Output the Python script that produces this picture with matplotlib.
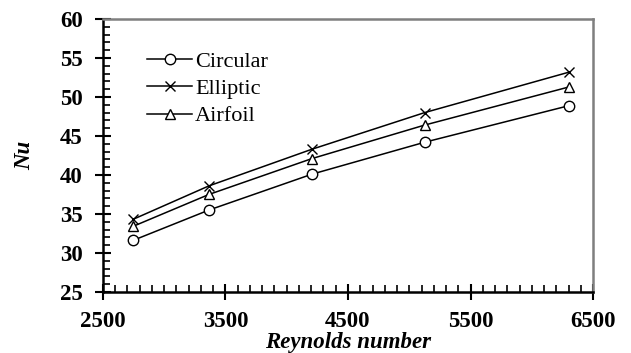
import matplotlib.pyplot as plt
from matplotlib.ticker import MultipleLocator

# Dados
reynolds = [2745, 3365, 4205, 5125, 6305]
nu_circular = [31.6, 35.5, 40.1, 44.2, 48.9]
nu_elliptic = [34.3, 38.6, 43.3, 48.0, 53.2]
nu_airfoil = [33.4, 37.5, 42.1, 46.4, 51.3]
series_labels = ['Circular', 'Elliptic', 'Airfoil']
x_ticks = [2500, 3500, 4500, 5500, 6500]

plt.rcParams['font.family'] = ['Liberation Serif', 'DejaVu Serif']

fig = plt.figure(figsize=(6.31, 3.53), dpi=100)
ax = fig.add_axes([0.163, 0.173, 0.777, 0.773])

ax.plot(reynolds, nu_circular, color='black', lw=1.1, marker='o', ms=7.5,
        mfc='white', mec='black', mew=1.0, label=series_labels[0])
ax.plot(reynolds, nu_elliptic, color='black', lw=1.1, marker='x', ms=7.5,
        mew=1.0, label=series_labels[1])
ax.plot(reynolds, nu_airfoil, color='black', lw=1.1, marker='^', ms=7.5,
        mfc='white', mec='black', mew=1.0, label=series_labels[2])

ax.set_xlim(2500, 6500)
ax.set_ylim(25, 60)
ax.set_xticks(x_ticks)
ax.xaxis.set_minor_locator(MultipleLocator(100))
ax.yaxis.set_major_locator(MultipleLocator(5))
ax.yaxis.set_minor_locator(MultipleLocator(1))

ax.tick_params(which='major', direction='inout', length=11, width=1.5,
               labelsize=16.5)
ax.tick_params(axis='y', which='major', pad=9)
ax.tick_params(axis='x', which='major', pad=8)
ax.tick_params(which='minor', direction='in', length=5, width=1.2)
for lab in ax.get_xticklabels() + ax.get_yticklabels():
    lab.set_fontweight('bold')

for s in ['left', 'bottom']:
    ax.spines[s].set_color('black')
    ax.spines[s].set_linewidth(1.8)
for s in ['top', 'right']:
    ax.spines[s].set_color('#7f7f7f')
    ax.spines[s].set_linewidth(1.8)

ax.set_xlabel('Reynolds number', fontsize=16.5, fontweight='bold', style='italic', labelpad=0)
ax.set_ylabel('Nu', fontsize=16.5, fontweight='bold', style='italic', labelpad=18)

ax.legend(loc='upper left', bbox_to_anchor=(0.05, 0.955), frameon=False,
          fontsize=16, handlelength=2.0, handletextpad=0.15, labelspacing=0.3)

fig.savefig('out.png', dpi=100)
